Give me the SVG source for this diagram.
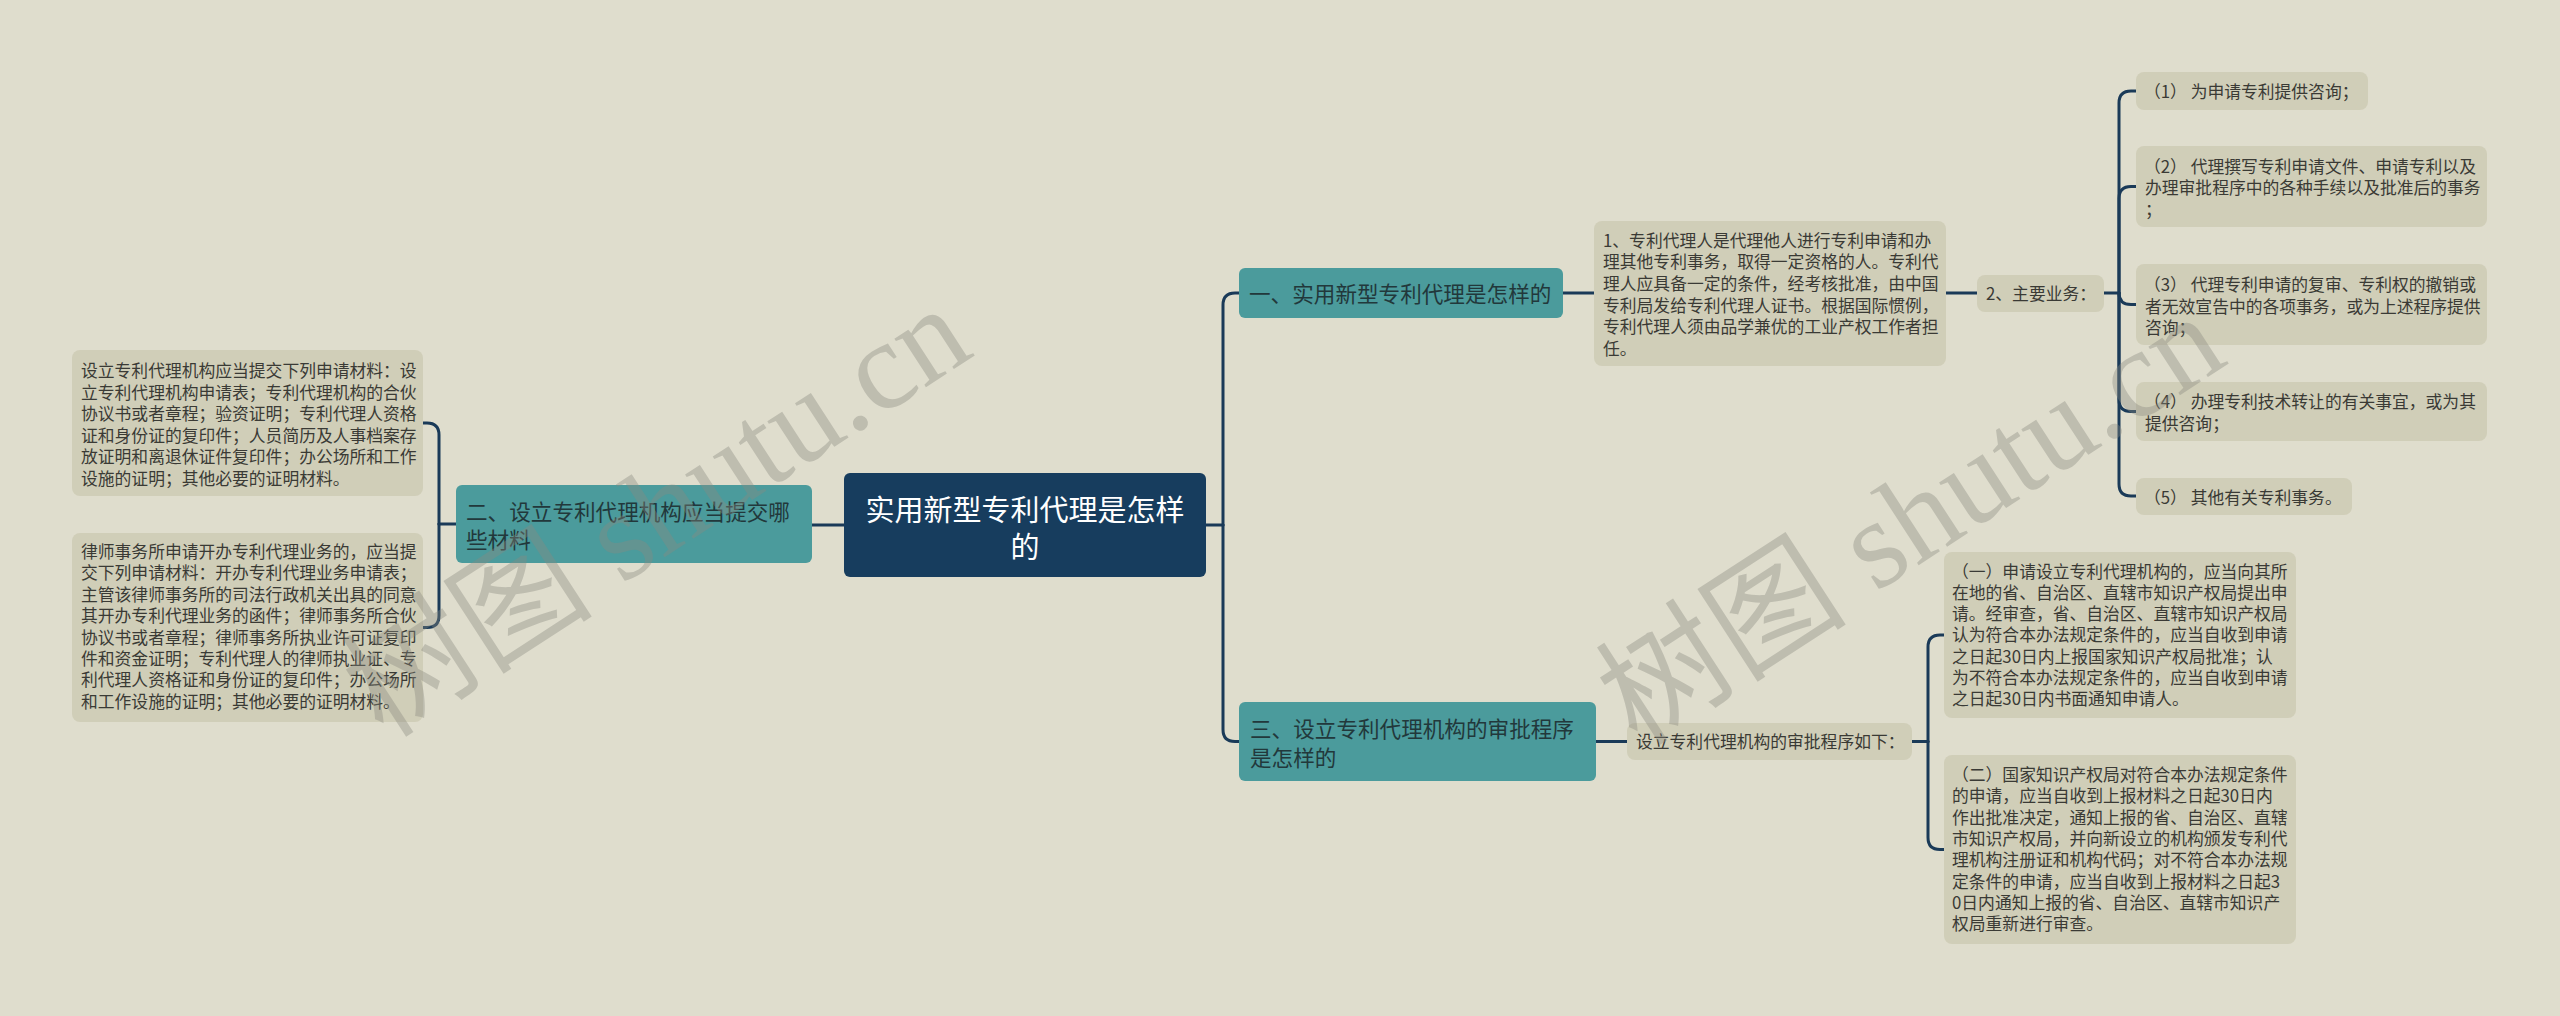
<svg xmlns="http://www.w3.org/2000/svg" width="2560" height="1016" viewBox="0 0 2560 1016">
<style>
.bg{fill:#DFDDCD}
.box{fill:#D0CEB8}
.teal{fill:#4B9B9C}
.root{fill:#173D5E}
.t{font-family:"Noto Sans CJK SC","Noto Sans",sans-serif;font-size:16.8px;fill:#3A3A35}
.tt{font-family:"Noto Sans CJK SC","Noto Sans",sans-serif;font-size:21.6px;fill:#22383B}
.rt{font-family:"Noto Sans CJK SC","Noto Sans",sans-serif;font-size:29px;fill:#FFFFFF;text-anchor:middle}
.c{fill:none;stroke:#1A3A58;stroke-width:3;stroke-linecap:round;stroke-linejoin:round}
.wm{font-family:"Liberation Serif","Noto Sans CJK SC",serif;font-size:126px;fill:#8A8A80;opacity:0.38;text-anchor:middle}
</style>
<rect class="bg" x="0" y="0" width="2560" height="1016"/>

<g id="connectors">
<path class="c" d="M844 525 H812"/>
<path class="c" d="M456 524 H439"/>
<path class="c" d="M439 524 V435 Q439 423 427 423 H423"/>
<path class="c" d="M439 524 V615.5 Q439 627.5 427 627.5 H423"/>
<path class="c" d="M1206 525 H1223"/>
<path class="c" d="M1223 525 V305 Q1223 293 1235 293 H1239"/>
<path class="c" d="M1223 525 V729.5 Q1223 741.5 1235 741.5 H1239"/>
<path class="c" d="M1563 293 H1594"/>
<path class="c" d="M1946 293 H1977"/>
<path class="c" d="M2104 293 H2119"/>
<path class="c" d="M2119 293 V103 Q2119 91 2131 91 H2136"/>
<path class="c" d="M2119 293 V198.5 Q2119 186.5 2131 186.5 H2136"/>
<path class="c" d="M2119 293 Q2119 304.5 2131 304.5 H2136"/>
<path class="c" d="M2119 293 V399.5 Q2119 411.5 2131 411.5 H2136"/>
<path class="c" d="M2119 293 V484 Q2119 496 2131 496 H2136"/>
<path class="c" d="M1596 741.5 H1627"/>
<path class="c" d="M1912 741.5 H1928"/>
<path class="c" d="M1928 741.5 V647 Q1928 635 1940 635 H1944"/>
<path class="c" d="M1928 741.5 V837.5 Q1928 849.5 1940 849.5 H1944"/>
</g>

<g id="root">
<rect class="root" x="844" y="473" width="362" height="104" rx="6"/>
<text class="rt" x="1025" y="521">实用新型专利代理是怎样</text>
<text class="rt" x="1025" y="558">的</text>
</g>

<g id="n2">
<rect class="teal" x="456" y="485" width="356" height="78" rx="6"/>
<text class="tt" x="466" y="520">二、设立专利代理机构应当提交哪</text>
<text class="tt" x="466" y="548">些材料</text>
</g>

<g id="n2a">
<rect class="box" x="72" y="350" width="351" height="146" rx="8"/>
<text class="t" x="81" y="377"><tspan x="81" dy="0">设立专利代理机构应当提交下列申请材料：设</tspan><tspan x="81" dy="21.5">立专利代理机构申请表；专利代理机构的合伙</tspan><tspan x="81" dy="21.5">协议书或者章程；验资证明；专利代理人资格</tspan><tspan x="81" dy="21.5">证和身份证的复印件；人员简历及人事档案存</tspan><tspan x="81" dy="21.5">放证明和离退休证件复印件；办公场所和工作</tspan><tspan x="81" dy="21.5">设施的证明；其他必要的证明材料。</tspan></text>
</g>

<g id="n2b">
<rect class="box" x="72" y="533" width="351" height="189" rx="8"/>
<text class="t" x="81" y="558"><tspan x="81" dy="0">律师事务所申请开办专利代理业务的，应当提</tspan><tspan x="81" dy="21.4">交下列申请材料：开办专利代理业务申请表；</tspan><tspan x="81" dy="21.4">主管该律师事务所的司法行政机关出具的同意</tspan><tspan x="81" dy="21.4">其开办专利代理业务的函件；律师事务所合伙</tspan><tspan x="81" dy="21.4">协议书或者章程；律师事务所执业许可证复印</tspan><tspan x="81" dy="21.4">件和资金证明；专利代理人的律师执业证、专</tspan><tspan x="81" dy="21.4">利代理人资格证和身份证的复印件；办公场所</tspan><tspan x="81" dy="21.4">和工作设施的证明；其他必要的证明材料。</tspan></text>
</g>

<g id="n1">
<rect class="teal" x="1239" y="268" width="324" height="50" rx="6"/>
<text class="tt" x="1249" y="302">一、实用新型专利代理是怎样的</text>
</g>

<g id="n1a">
<rect class="box" x="1594" y="221" width="352" height="145" rx="8"/>
<text class="t" x="1603" y="246.5"><tspan x="1603" dy="0">1、专利代理人是代理他人进行专利申请和办</tspan><tspan x="1603" dy="21.7">理其他专利事务，取得一定资格的人。专利代</tspan><tspan x="1603" dy="21.7">理人应具备一定的条件，经考核批准，由中国</tspan><tspan x="1603" dy="21.7">专利局发给专利代理人证书。根据国际惯例，</tspan><tspan x="1603" dy="21.7">专利代理人须由品学兼优的工业产权工作者担</tspan><tspan x="1603" dy="21.7">任。</tspan></text>
</g>

<g id="n1b">
<rect class="box" x="1977" y="275" width="127" height="37" rx="8"/>
<text class="t" x="1986" y="300">2、主要业务：</text>
</g>

<g id="i1">
<rect class="box" x="2136" y="72" width="232" height="38" rx="8"/>
<text class="t" x="2144" y="98">（1） 为申请专利提供咨询；</text>
</g>
<g id="i2">
<rect class="box" x="2136" y="146" width="351" height="81" rx="8"/>
<text class="t" x="2144" y="172.5"><tspan x="2144" dy="0">（2） 代理撰写专利申请文件、申请专利以及</tspan><tspan x="2145" dy="21.5">办理审批程序中的各种手续以及批准后的事务</tspan><tspan x="2145" dy="21.5">；</tspan></text>
</g>
<g id="i3">
<rect class="box" x="2136" y="264" width="351" height="81" rx="8"/>
<text class="t" x="2144" y="291"><tspan x="2144" dy="0">（3） 代理专利申请的复审、专利权的撤销或</tspan><tspan x="2145" dy="21.5">者无效宣告中的各项事务，或为上述程序提供</tspan><tspan x="2145" dy="21.5">咨询；</tspan></text>
</g>
<g id="i4">
<rect class="box" x="2136" y="382" width="351" height="59" rx="8"/>
<text class="t" x="2144" y="408"><tspan x="2144" dy="0">（4） 办理专利技术转让的有关事宜，或为其</tspan><tspan x="2145" dy="21.5">提供咨询；</tspan></text>
</g>
<g id="i5">
<rect class="box" x="2136" y="478" width="216" height="37" rx="8"/>
<text class="t" x="2144" y="503.5">（5） 其他有关专利事务。</text>
</g>

<g id="n3">
<rect class="teal" x="1239" y="702" width="357" height="79" rx="6"/>
<text class="tt" x="1250" y="737">三、设立专利代理机构的审批程序</text>
<text class="tt" x="1250" y="766">是怎样的</text>
</g>

<g id="n3a">
<rect class="box" x="1627" y="723" width="285" height="37" rx="8"/>
<text class="t" x="1636" y="748">设立专利代理机构的审批程序如下：</text>
</g>

<g id="p1">
<rect class="box" x="1944" y="552" width="352" height="166" rx="8"/>
<text class="t" x="1952" y="577.5"><tspan x="1952" dy="0">（一）申请设立专利代理机构的，应当向其所</tspan><tspan x="1952" dy="21.3">在地的省、自治区、直辖市知识产权局提出申</tspan><tspan x="1952" dy="21.3">请。经审查，省、自治区、直辖市知识产权局</tspan><tspan x="1952" dy="21.3">认为符合本办法规定条件的，应当自收到申请</tspan><tspan x="1952" dy="21.3">之日起30日内上报国家知识产权局批准；认</tspan><tspan x="1952" dy="21.3">为不符合本办法规定条件的，应当自收到申请</tspan><tspan x="1952" dy="21.3">之日起30日内书面通知申请人。</tspan></text>
</g>

<g id="p2">
<rect class="box" x="1944" y="755" width="352" height="189" rx="8"/>
<text class="t" x="1952" y="781"><tspan x="1952" dy="0">（二）国家知识产权局对符合本办法规定条件</tspan><tspan x="1952" dy="21.3">的申请，应当自收到上报材料之日起30日内</tspan><tspan x="1952" dy="21.3">作出批准决定，通知上报的省、自治区、直辖</tspan><tspan x="1952" dy="21.3">市知识产权局，并向新设立的机构颁发专利代</tspan><tspan x="1952" dy="21.3">理机构注册证和机构代码；对不符合本办法规</tspan><tspan x="1952" dy="21.3">定条件的申请，应当自收到上报材料之日起3</tspan><tspan x="1952" dy="21.3">0日内通知上报的省、自治区、直辖市知识产</tspan><tspan x="1952" dy="21.3">权局重新进行审查。</tspan></text>
</g>

<g id="watermarks">
<text class="wm" x="680" y="547" transform="rotate(-33 680 547)">树图 shutu.cn</text>
<text class="wm" x="1934" y="555" transform="rotate(-33 1934 555)">树图 shutu.cn</text>
</g>
</svg>
